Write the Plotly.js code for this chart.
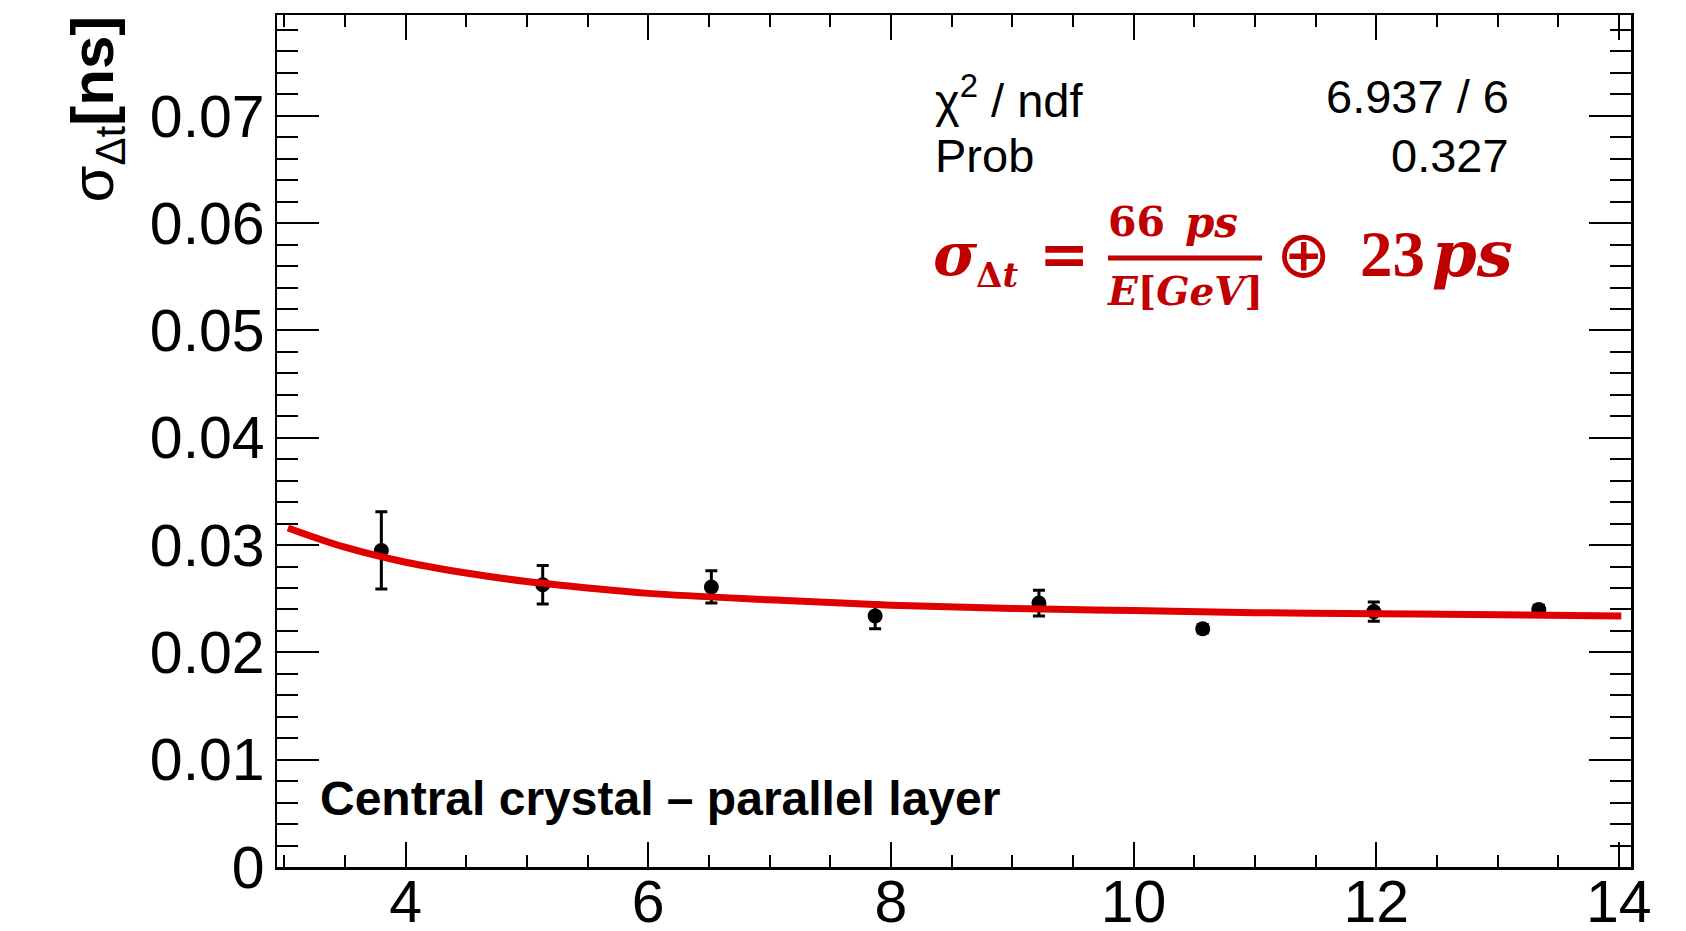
<!DOCTYPE html>
<html>
<head>
<meta charset="utf-8">
<script src="https://cdn.plot.ly/plotly-3.0.1.min.js"></script>
<style>
  html, body { margin: 0; padding: 0; background: #ffffff; }
  #chart { width: 1686px; height: 931px; }
</style>
</head>
<body>
<div id="chart"></div>
<script>
// Beam energy (GeV) and measured time resolution sigma_dt (ns) with its uncertainty
const energy   = [3.80, 5.13, 6.52, 7.87, 9.22, 10.57, 11.98, 13.34];
const sigmaDt  = [0.0295, 0.0263, 0.0261, 0.0234, 0.0246, 0.0222, 0.0238, 0.0240];
const sigmaErr = [0.0036, 0.0018, 0.0015, 0.0012, 0.0012, 0.0004, 0.0009, 0.0004];

// Fitted resolution curve, sampled along the fit range
const fitEnergy = [3.03, 3.5, 4.0, 4.5, 5.0, 5.5, 6.0, 7.0, 8.0, 9.0, 10.0, 11.0, 12.0, 13.0, 14.02];
const fitSigma  = [0.0316, 0.0298, 0.0284, 0.0274, 0.0266, 0.0260, 0.0255, 0.0249, 0.0244, 0.0241, 0.0239, 0.0237, 0.0236, 0.0235, 0.0234];

// Fit statistics box
const statLabels = ['χ<sup>2</sup> / ndf', 'Prob'];
const statValues = ['6.937 / 6', '0.327'];

const panelLabel = '<b>Central crystal – parallel layer</b>';

// Plot-area geometry (pixels) and pixel -> paper helpers for the text overlay
const PL = 277, PT = 15, PW = 1354, PH = 852;
const fx = px => (px - PL) / PW;
const fy = py => (PT + PH - py) / PH;

const SANS = 'Liberation Sans, Arial, Helvetica, sans-serif';
const SERIF = 'Liberation Serif, Times New Roman, serif';
const DSERIF = 'DejaVu Serif, serif';
const FORMULA_RED = '#c00000';

const points = {
  type: 'scatter', mode: 'markers',
  x: energy, y: sigmaDt,
  marker: { color: '#000000', size: 15 },
  error_y: { type: 'data', array: sigmaErr, visible: true, color: '#000000', thickness: 3, width: 6 },
  hoverinfo: 'x+y'
};

const fitCurve = {
  type: 'scatter', mode: 'lines',
  x: fitEnergy, y: fitSigma,
  line: { color: '#e00000', width: 7, shape: 'spline', smoothing: 1 },
  hoverinfo: 'skip'
};

function txt(text, px, py, size, opts, family, color) {
  return Object.assign({
    text: text, x: fx(px), y: fy(py), xref: 'paper', yref: 'paper',
    showarrow: false, xanchor: 'left', yanchor: 'middle',
    font: { family: family || SANS, size: size, color: color || '#000000' }
  }, opts || {});
}
const red = (text, px, py, size, family, opts) => txt(text, px, py, size, opts, family, FORMULA_RED);

const annotations = [
  // y-axis title, rotated, aligned to the top of the axis
  txt('σ<sub>Δt</sub><b>[ns]</b>', 96, 14, 60, { xanchor: 'center', yanchor: 'top', textangle: -90 }),
  // fit statistics
  txt(statLabels[0], 933, 97, 47),
  txt(statLabels[1], 933, 155, 47),
  txt(statValues[0], 1511, 97, 47, { xanchor: 'right' }),
  txt(statValues[1], 1511, 155, 47, { xanchor: 'right' }),
  // resolution formula: sigma_dt = (66 ps)/(E[GeV]) (+) 23 ps
  red('<b><i>σ</i></b>', 931, 254, 60, DSERIF),
  red('<b>Δ<i>t</i></b>', 974, 275, 34, DSERIF),
  red('<b>=</b>', 1064, 254, 60, DSERIF, { xanchor: 'center' }),
  red('<b>66</b>', 1106, 222, 41, DSERIF),
  red('<b><i>ps</i></b>', 1183, 222, 42, DSERIF),
  red('<b><i>E</i>[<i>GeV</i>]</b>', 1185, 291, 39, DSERIF, { xanchor: 'center' }),
  red('⊕', 1303, 255, 66, 'DejaVu Sans, sans-serif', { xanchor: 'center' }),
  red('<b>23</b>', 1358, 254, 65, SERIF),
  red('<b><i>ps</i></b>', 1430, 253, 64, DSERIF),
  // panel label
  txt(panelLabel, 318, 798, 48)
];

const shapes = [
  // fraction bar of the formula
  { type: 'line', xref: 'paper', yref: 'paper', x0: fx(1108), x1: fx(1262), y0: fy(258), y1: fy(258),
    line: { color: FORMULA_RED, width: 5 } }
];

const axisCommon = {
  showline: true, linecolor: '#000000', linewidth: 2.5, mirror: 'allticks',
  ticks: 'inside', tickcolor: '#000000', tickwidth: 2,
  showgrid: false, zeroline: false,
  tickfont: { family: SANS, size: 59, color: '#000000' }
};

const layout = {
  width: 1686, height: 931,
  margin: { l: PL, r: 1686 - PL - PW, t: PT, b: 931 - PT - PH, pad: 0 },
  paper_bgcolor: '#ffffff', plot_bgcolor: '#ffffff',
  showlegend: false,
  font: { family: SANS, color: '#000000' },
  xaxis: Object.assign({}, axisCommon, {
    range: [2.94, 14.1], tickmode: 'linear', tick0: 0, dtick: 2, ticklen: 25,
    ticklabelstandoff: -18,
    minor: { tickmode: 'linear', tick0: 0, dtick: 0.5, ticks: 'inside', ticklen: 12, tickwidth: 2, tickcolor: '#000000', showgrid: false }
  }),
  yaxis: Object.assign({}, axisCommon, {
    range: [0, 0.0794], tickmode: 'linear', tick0: 0, dtick: 0.01, ticklen: 42,
    ticklabelstandoff: -2,
    minor: { tickmode: 'linear', tick0: 0, dtick: 0.002, ticks: 'inside', ticklen: 21, tickwidth: 2, tickcolor: '#000000', showgrid: false }
  }),
  annotations: annotations,
  shapes: shapes
};

Plotly.newPlot('chart', [points, fitCurve], layout, { displayModeBar: false, staticPlot: true });
</script>
</body>
</html>
